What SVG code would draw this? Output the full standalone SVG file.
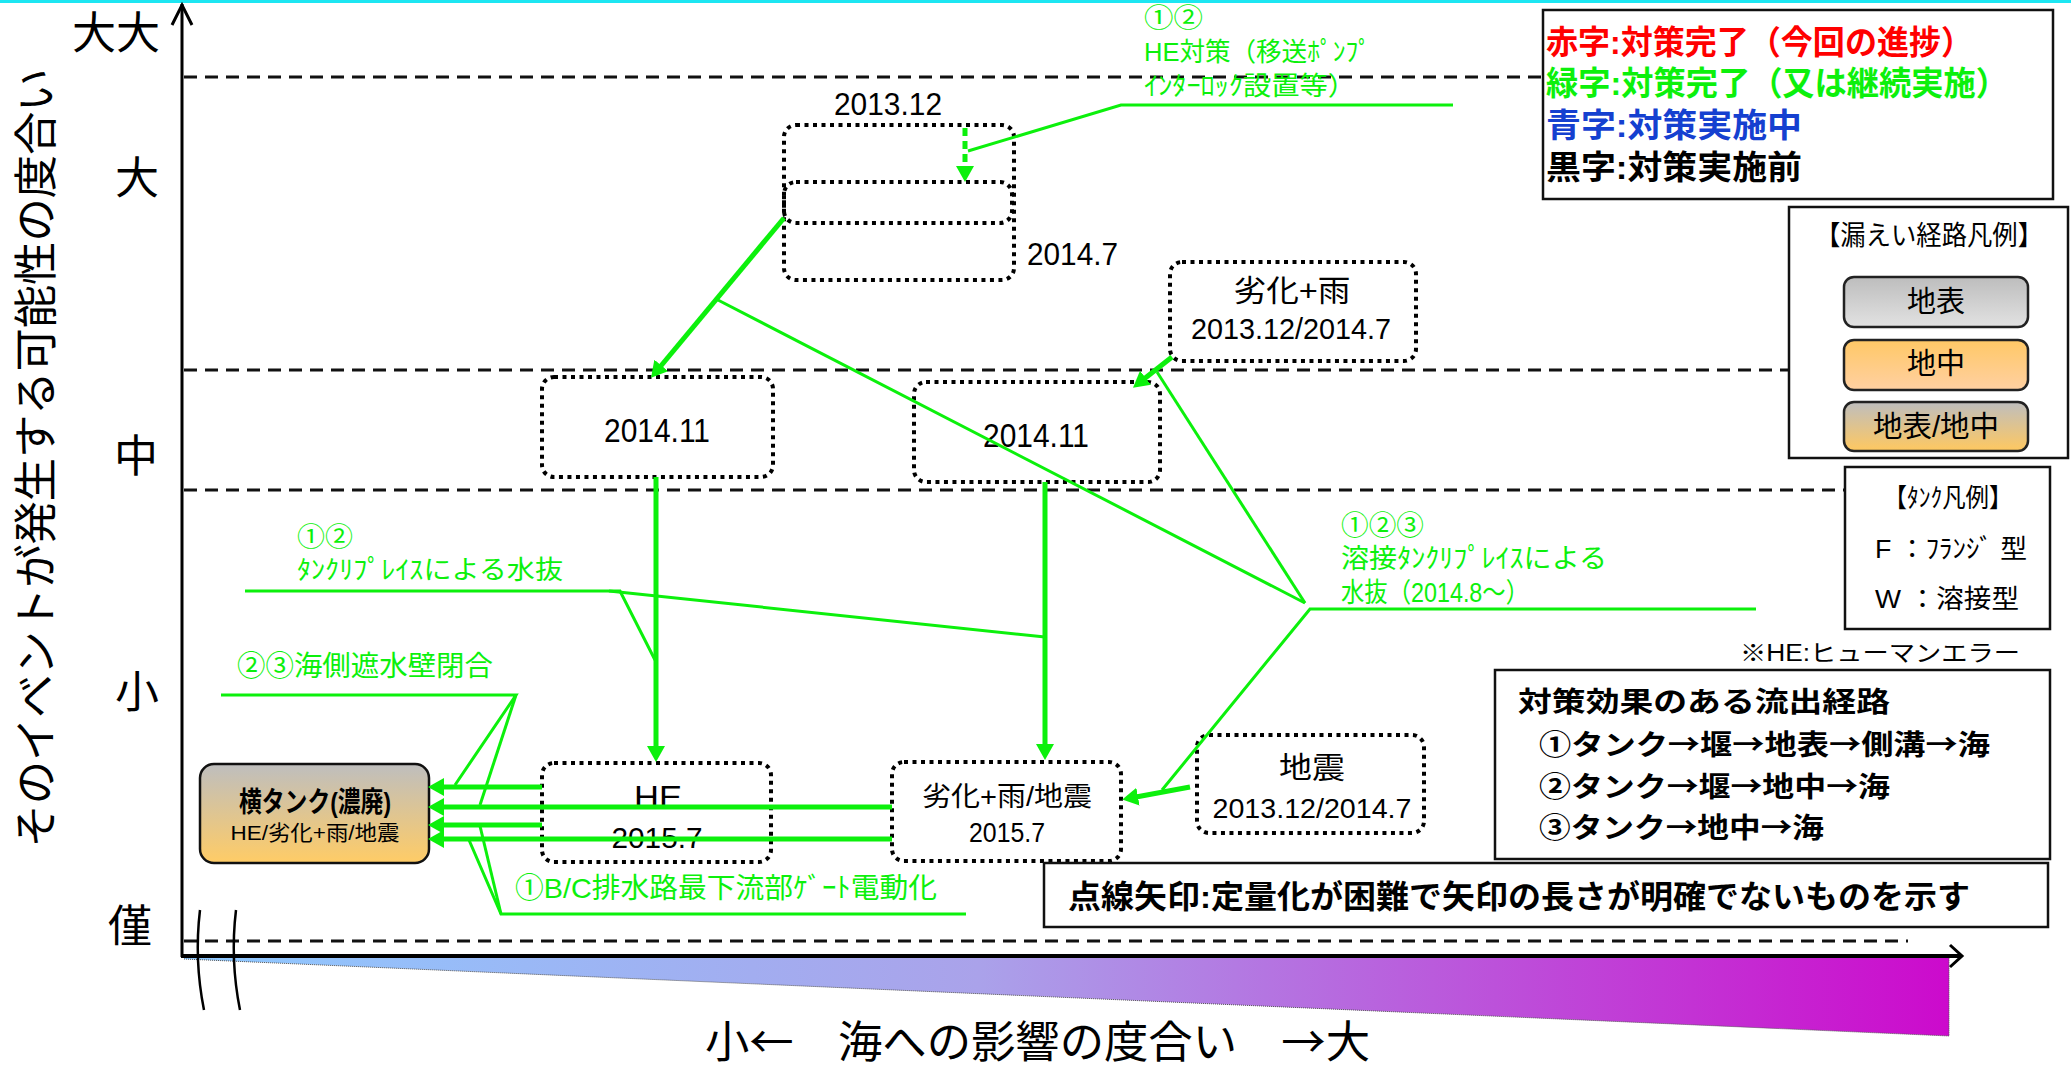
<svg xmlns="http://www.w3.org/2000/svg" width="2071" height="1070" viewBox="0 0 2071 1070">
<style>
.ax{stroke:#000;stroke-width:3;fill:none}
.dash{stroke:#111;stroke-width:3;stroke-dasharray:13 8;fill:none}
.dot{fill:none;stroke:#000;stroke-width:4;stroke-dasharray:4 4.5}
.gl{stroke:#0CF00C;stroke-width:3;fill:none}
.ga{stroke:#0CF00C;stroke-width:5;fill:none;marker-end:url(#ah)}
.jp{font-family:"Noto Sans CJK JP","Noto Sans CJK SC",sans-serif}
.mix{font-family:"Liberation Sans","Noto Sans CJK JP","Noto Sans CJK SC",sans-serif}
.num{font-family:"Liberation Sans","Noto Sans CJK JP",sans-serif}
.gt{fill:#0CF00C}
.b{font-weight:bold}
.box{fill:#fff;stroke:#111;stroke-width:2.5}
.lg{stroke:#222;stroke-width:2.5}
</style>
<defs>
<marker id="ah" viewBox="0 0 16 18" refX="2" refY="9" markerWidth="16" markerHeight="18" markerUnits="userSpaceOnUse" orient="auto"><path d="M0,0 L16,9 L0,18 z" fill="#0CF00C"/></marker>
<linearGradient id="band" x1="0" y1="0" x2="1" y2="0"><stop offset="0" stop-color="#8EC9FF"/><stop offset="0.45" stop-color="#AAA2EA"/><stop offset="1" stop-color="#CC0ACC"/></linearGradient>
<linearGradient id="gTank" x1="0" y1="0" x2="0" y2="1"><stop offset="0" stop-color="#BEBEBE"/><stop offset="1" stop-color="#FFCC66"/></linearGradient>
<linearGradient id="gSurf" x1="0" y1="0" x2="0" y2="1"><stop offset="0" stop-color="#BDBDBD"/><stop offset="1" stop-color="#E2E2E2"/></linearGradient>
<linearGradient id="gUnder" x1="0" y1="0" x2="0" y2="1"><stop offset="0" stop-color="#FFC866"/><stop offset="1" stop-color="#FFD0A2"/></linearGradient>
<linearGradient id="gBoth" x1="0" y1="0" x2="0" y2="1"><stop offset="0" stop-color="#BEBEBE"/><stop offset="1" stop-color="#FFC860"/></linearGradient>
</defs>
<rect x="0" y="0" width="2071" height="1070" fill="#fff"/>
<rect x="0" y="0" width="2071" height="3" fill="#1CE6F2"/>

<g id="axes">
<polygon points="184,958 1949,958 1949,1036 184,959" fill="url(#band)"/>
<polyline points="184,959 1949,1036 1949,958" fill="none" stroke="#555" stroke-width="1" stroke-dasharray="1 1"/>
<line class="dash" x1="184" y1="77" x2="1543" y2="77"/>
<line class="dash" x1="184" y1="370" x2="1789" y2="370"/>
<line class="dash" x1="184" y1="490" x2="1845" y2="490"/>
<line class="dash" x1="184" y1="941" x2="1908" y2="941"/>
<line class="ax" x1="182" y1="4" x2="182" y2="957"/>
<polyline class="ax" points="172,25 182,5 192,25"/>
<line stroke="#000" stroke-width="4" x1="181" y1="956" x2="1960" y2="956"/>
<polyline class="ax" points="1950,945 1962,956 1950,967"/>
<path d="M200,910 Q194,960 204,1010" fill="none" stroke="#000" stroke-width="2.5"/>
<path d="M236,910 Q230,960 240,1010" fill="none" stroke="#000" stroke-width="2.5"/>
<g class="jp" font-size="44" fill="#000">
<text x="160" y="49" text-anchor="end">大大</text>
<text x="137" y="194" text-anchor="middle">大</text>
<text x="136" y="472" text-anchor="middle">中</text>
<text x="137" y="708" text-anchor="middle">小</text>
<text x="130" y="942" text-anchor="middle">僅</text>
<text transform="translate(52,458) rotate(-90)" text-anchor="middle" textLength="779" lengthAdjust="spacingAndGlyphs">そのイベントが発生する可能性の度合い</text>
<text x="705" y="1058" textLength="665" lengthAdjust="spacingAndGlyphs">小←　海への影響の度合い　→大</text>
</g>
</g>

<g id="node-he-top">
<rect class="dot" x="784" y="125" width="230" height="155" rx="12"/>
<rect class="dot" x="784" y="182" width="228" height="41" rx="12"/>
<text class="num" x="834" y="115" font-size="32" textLength="108" lengthAdjust="spacingAndGlyphs">2013.12</text>
<text class="num" x="1027" y="265" font-size="32" textLength="91" lengthAdjust="spacingAndGlyphs">2014.7</text>
</g>
<g id="node-rain-top">
<rect class="dot" x="1170" y="262" width="246" height="99" rx="12"/>
<text class="mix" x="1292" y="301" font-size="30" text-anchor="middle" textLength="117" lengthAdjust="spacingAndGlyphs">劣化+雨</text>
<text class="num" x="1291" y="339" font-size="29" text-anchor="middle" textLength="200" lengthAdjust="spacingAndGlyphs">2013.12/2014.7</text>
</g>
<g id="node-2014-11-left">
<rect class="dot" x="542" y="377" width="231" height="100" rx="12"/>
<text class="num" x="657" y="442" font-size="33" text-anchor="middle" textLength="106" lengthAdjust="spacingAndGlyphs">2014.11</text>
</g>
<g id="node-2014-11-right">
<rect class="dot" x="914" y="382" width="246" height="100" rx="12"/>
<text class="num" x="1036" y="447" font-size="33" text-anchor="middle" textLength="106" lengthAdjust="spacingAndGlyphs">2014.11</text>
</g>
<g id="node-he-2015">
<rect class="dot" x="542" y="763" width="229" height="99" rx="12"/>
<text class="num" x="658" y="808" font-size="32" text-anchor="middle" textLength="48" lengthAdjust="spacingAndGlyphs">HE</text>
<text class="num" x="657" y="848" font-size="30" text-anchor="middle" textLength="91" lengthAdjust="spacingAndGlyphs">2015.7</text>
</g>
<g id="node-rain-quake-2015">
<rect class="dot" x="892" y="762" width="229" height="99" rx="12"/>
<text class="mix" x="1007" y="806" font-size="27" text-anchor="middle" textLength="170" lengthAdjust="spacingAndGlyphs">劣化+雨/地震</text>
<text class="num" x="1007" y="842" font-size="28" text-anchor="middle" textLength="76" lengthAdjust="spacingAndGlyphs">2015.7</text>
</g>
<g id="node-quake">
<rect class="dot" x="1197" y="735" width="227" height="98" rx="12"/>
<text class="mix" x="1312" y="778" font-size="30" text-anchor="middle" textLength="66" lengthAdjust="spacingAndGlyphs">地震</text>
<text class="num" x="1312" y="818" font-size="28" text-anchor="middle" textLength="199" lengthAdjust="spacingAndGlyphs">2013.12/2014.7</text>
</g>
<g id="node-tank">
<rect x="200" y="764" width="229" height="99" rx="14" fill="url(#gTank)" stroke="#111" stroke-width="2.5"/>
<text class="mix b" x="315" y="812" font-size="28" text-anchor="middle" textLength="152" lengthAdjust="spacingAndGlyphs">横タンク(濃廃)</text>
<text class="mix" x="315" y="840" font-size="21" text-anchor="middle" textLength="169" lengthAdjust="spacingAndGlyphs">HE/劣化+雨/地震</text>
</g>

<g id="connectors">
<line class="ga" x1="784" y1="218" x2="660" y2="367"/>
<line class="ga" x1="1172" y1="357" x2="1144" y2="379"/>
<line class="ga" x1="656" y1="477" x2="656" y2="748"/>
<line class="ga" x1="1045" y1="482" x2="1045" y2="746"/>
<line class="ga" x1="1190" y1="787" x2="1136" y2="797"/>
<line class="ga" x1="542" y1="787" x2="442" y2="787"/>
<line class="ga" x1="892" y1="807" x2="442" y2="807"/>
<line class="ga" x1="542" y1="825" x2="442" y2="825"/>
<line class="ga" x1="892" y1="839" x2="442" y2="839"/>
<line class="ga" x1="965" y1="128" x2="965" y2="168" stroke-width="4" stroke-dasharray="8 5"/>
<polyline class="gl" points="968,151 1121,105 1453,105"/>
<polyline class="gl" points="245,591 620,591 655,660"/>
<line class="gl" x1="609" y1="591" x2="1045" y2="637"/>
<polyline class="gl" points="221,695 516,695 455,785"/>
<line class="gl" x1="516" y1="695" x2="480" y2="805"/>
<polyline class="gl" points="469,840 501,914 966,914"/>
<line class="gl" x1="480" y1="826" x2="501" y2="914"/>
<line class="gl" x1="716" y1="299" x2="1305" y2="603"/>
<line class="gl" x1="1157" y1="372" x2="1305" y2="603"/>
<polyline class="gl" points="1162,790 1310,609 1756,609"/>
</g>

<g id="labels" class="mix gt" font-size="26">
<text x="1144" y="27" textLength="59" lengthAdjust="spacingAndGlyphs">①②</text>
<text x="1144" y="61" textLength="227" lengthAdjust="spacingAndGlyphs">HE対策（移送ﾎﾟﾝﾌﾟ</text>
<text x="1144" y="95" textLength="212" lengthAdjust="spacingAndGlyphs">ｲﾝﾀｰﾛｯｸ設置等）</text>
<text x="297" y="546" textLength="56" lengthAdjust="spacingAndGlyphs">①②</text>
<text x="297" y="579" textLength="266" lengthAdjust="spacingAndGlyphs">ﾀﾝｸﾘﾌﾟﾚｲｽによる水抜</text>
<text x="237" y="676" font-size="28" textLength="256" lengthAdjust="spacingAndGlyphs">②③海側遮水壁閉合</text>
<text x="1341" y="535" font-size="27" textLength="83" lengthAdjust="spacingAndGlyphs">①②③</text>
<text x="1341" y="568" font-size="27" textLength="266" lengthAdjust="spacingAndGlyphs">溶接ﾀﾝｸﾘﾌﾟﾚｲｽによる</text>
<text x="1341" y="602" font-size="27" textLength="188" lengthAdjust="spacingAndGlyphs">水抜（2014.8～）</text>
<text x="515" y="898" font-size="28" textLength="422" lengthAdjust="spacingAndGlyphs">①B/C排水路最下流部ｹﾞｰﾄ電動化</text>
</g>

<g id="legend-colors">
<rect class="box" x="1543" y="10" width="510" height="189"/>
<g class="mix b" font-size="33">
<text x="1546" y="54" fill="#FF0000" textLength="427" lengthAdjust="spacingAndGlyphs">赤字:対策完了（今回の進捗）</text>
<text x="1546" y="95" fill="#0CF00C" textLength="462" lengthAdjust="spacingAndGlyphs">緑字:対策完了（又は継続実施）</text>
<text x="1546" y="137" fill="#1540D0" textLength="256" lengthAdjust="spacingAndGlyphs">青字:対策実施中</text>
<text x="1546" y="179" fill="#000" textLength="256" lengthAdjust="spacingAndGlyphs">黒字:対策実施前</text>
</g>
</g>
<g id="legend-route">
<rect class="box" x="1789" y="207" width="279" height="251"/>
<text class="mix" x="1929" y="245" font-size="27" text-anchor="middle" textLength="228" lengthAdjust="spacingAndGlyphs">【漏えい経路凡例】</text>
<rect class="lg" x="1844" y="277" width="184" height="50" rx="10" fill="url(#gSurf)"/>
<text class="mix" x="1936" y="312" font-size="29" text-anchor="middle">地表</text>
<rect class="lg" x="1844" y="340" width="184" height="50" rx="10" fill="url(#gUnder)"/>
<text class="mix" x="1936" y="374" font-size="29" text-anchor="middle">地中</text>
<rect class="lg" x="1844" y="402" width="184" height="49" rx="10" fill="url(#gBoth)"/>
<text class="mix" x="1936" y="437" font-size="29" text-anchor="middle" textLength="126" lengthAdjust="spacingAndGlyphs">地表/地中</text>
</g>
<g id="legend-tank">
<rect class="box" x="1845" y="467" width="205" height="162"/>
<g class="mix" font-size="26">
<text x="1948" y="507" text-anchor="middle" textLength="129" lengthAdjust="spacingAndGlyphs">【ﾀﾝｸ凡例】</text>
<text x="1875" y="558" textLength="152" lengthAdjust="spacingAndGlyphs">F ：ﾌﾗﾝｼﾞ 型</text>
<text x="1875" y="608" textLength="144" lengthAdjust="spacingAndGlyphs">W ：溶接型</text>
</g>
</g>
<text id="note-he" class="mix" x="1740" y="661" font-size="23" textLength="280" lengthAdjust="spacingAndGlyphs">※HE:ヒューマンエラー</text>
<g id="legend-routes">
<rect class="box" x="1495" y="670" width="555" height="189"/>
<g class="jp b" font-size="28">
<text x="1518" y="712" textLength="372" lengthAdjust="spacingAndGlyphs">対策効果のある流出経路</text>
<text x="1539" y="755" textLength="451" lengthAdjust="spacingAndGlyphs">①タンク→堰→地表→側溝→海</text>
<text x="1539" y="797" textLength="351" lengthAdjust="spacingAndGlyphs">②タンク→堰→地中→海</text>
<text x="1539" y="838" textLength="285" lengthAdjust="spacingAndGlyphs">③タンク→地中→海</text>
</g>
</g>
<g id="legend-dotted">
<rect class="box" x="1044" y="863" width="1004" height="64"/>
<text class="mix b" x="1068" y="908" font-size="32" textLength="902" lengthAdjust="spacingAndGlyphs">点線矢印:定量化が困難で矢印の長さが明確でないものを示す</text>
</g>
</svg>
